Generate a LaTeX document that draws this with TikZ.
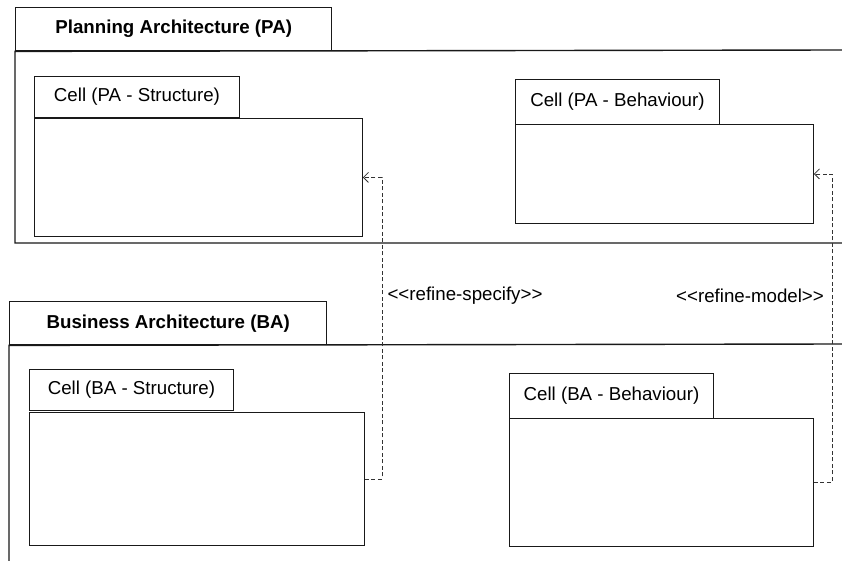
\documentclass[tikz,border=0pt]{standalone}
\usepackage{fontspec}
\setmainfont{Liberation Sans}
\usetikzlibrary{arrows.meta}
\begin{document}
\begin{tikzpicture}[x=1pt,y=-1pt,
  pkgline/.style={line width=1.4pt, draw=black!90},
  pkgtab/.style={pkgline, rectangle, inner sep=0pt, anchor=north west,
    font=\bfseries\fontsize{18.7}{22}\selectfont},
  celltab/.style={draw=black!90, rectangle, line width=0.9pt, inner sep=0pt,
    anchor=north west, font=\fontsize{18.7}{22}\selectfont},
  cellbody/.style={draw=black!90, rectangle, line width=0.9pt, inner sep=0pt,
    anchor=north west},
  refine/.style={draw=black!80, line width=0.8pt, dash pattern=on 4pt off 2.5pt,
    -{Straight Barb[length=5pt,width=10pt,line width=0.8pt]}},
  stereo/.style={font=\fontsize{18.7}{22}\selectfont, inner sep=0pt}]
\useasboundingbox (0,0) rectangle (842,561);

% Planning Architecture package
\node[pkgtab, minimum width=316pt, minimum height=43pt] (patab) at (15,7)
  {Planning Architecture (PA)};
\draw[pkgline] (842,50) -- (patab.south west) -- (15,243) -- (842,243);

% Business Architecture package
\node[pkgtab, minimum width=317pt, minimum height=43pt] (batab) at (9,301)
  {Business Architecture (BA)};
\draw[pkgline] (842,344) -- (batab.south west) -- (9,562);

% PA cells
\node[celltab, minimum width=205pt, minimum height=41pt] (pastab) at (34,76)
  {Cell (PA - Structure)};
\node[cellbody, minimum width=328pt, minimum height=118pt] (pasbody) at (34,118) {};
\node[celltab, minimum width=204pt, minimum height=45pt] (pabtab) at (515,79)
  {Cell (PA - Behaviour)};
\node[cellbody, minimum width=298pt, minimum height=99pt] (pabbody) at (515,124) {};

% BA cells
\node[celltab, minimum width=204pt, minimum height=41pt] (bastab) at (29,369)
  {Cell (BA - Structure)};
\node[cellbody, minimum width=335pt, minimum height=133pt] (basbody) at (29,412) {};
\node[celltab, minimum width=204pt, minimum height=45pt] (babtab) at (509,373)
  {Cell (BA - Behaviour)};
\node[cellbody, minimum width=304pt, minimum height=128pt] (babbody) at (509,418) {};

% refinement dependencies
\draw[refine] (basbody.east) -- ++(17,0) |- (pasbody.east);
\draw[refine] (babbody.east) -- ++(18,0) |- (pabbody.east);

\node[stereo] (lspec) at (465,296) {<\kern0pt<refine-specify>\kern0pt>};
\node[stereo] (lmodel) at (750,296) {<\kern0pt<refine-model>\kern0pt>};
\end{tikzpicture}
\end{document}
